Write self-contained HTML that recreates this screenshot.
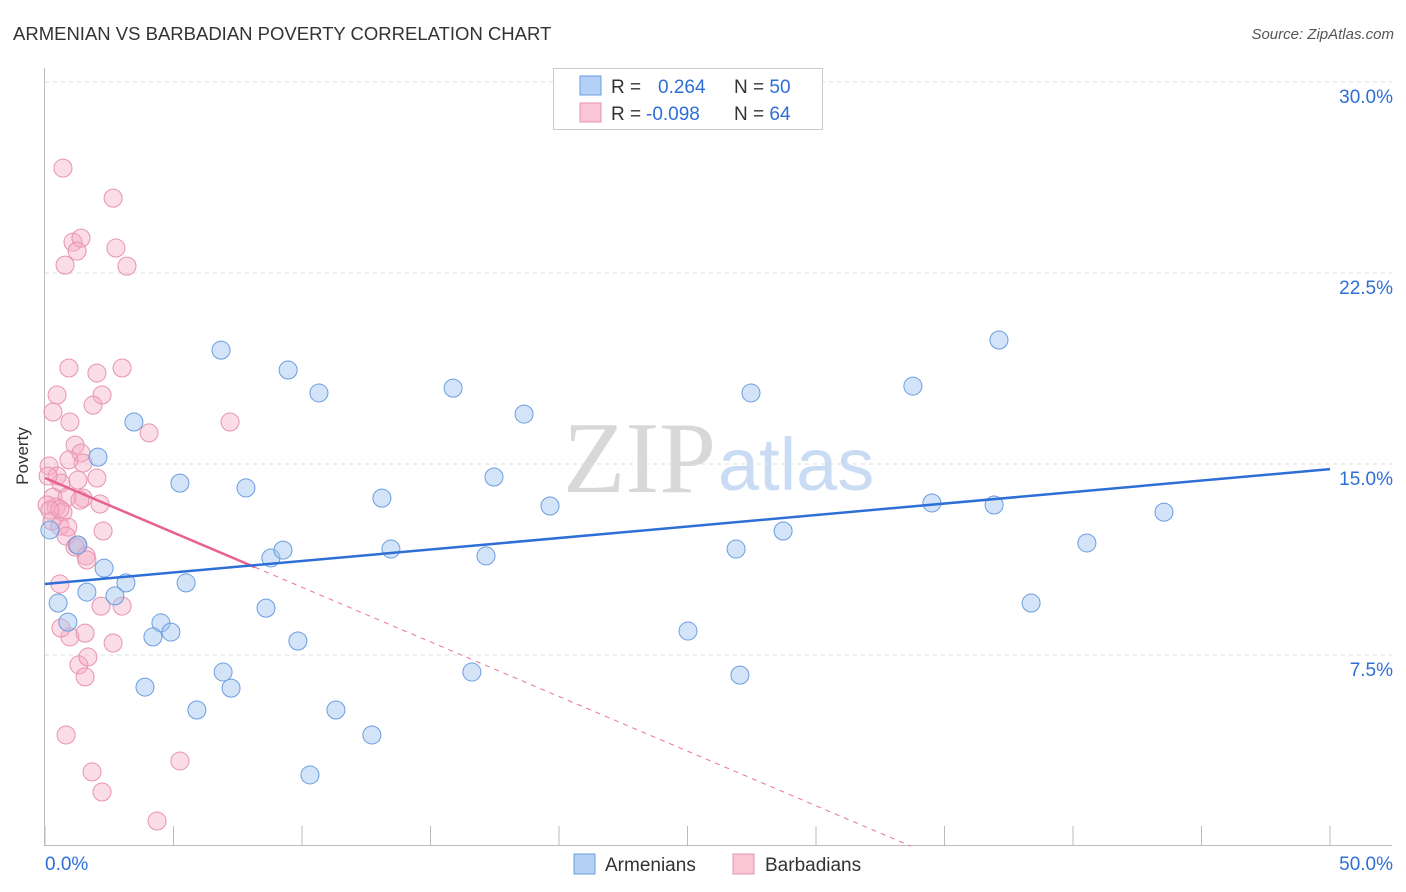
<!DOCTYPE html>
<html><head><meta charset="utf-8"><style>
body{margin:0;background:#fff;font-family:"Liberation Sans",sans-serif;}
svg{display:block}
</style></head><body>
<svg id="chart" width="1406" height="892" xmlns="http://www.w3.org/2000/svg">
<text x="13" y="40" font-size="18.5" fill="#333">ARMENIAN VS BARBADIAN POVERTY CORRELATION CHART</text>
<text x="1394" y="39" font-size="15" fill="#555" font-style="italic" text-anchor="end">Source: ZipAtlas.com</text>
<text x="716" y="492" font-size="102" fill="#d8d8d8" text-anchor="end" font-family="Liberation Serif,serif">ZIP</text>
<text x="718" y="490" font-size="74" fill="#c9dcf3">atlas</text>
<g id="grid"></g><g id="marks"></g>
<text x="28" y="456" font-size="17" fill="#333" text-anchor="middle" transform="rotate(-90 28 456)">Poverty</text>
<g>
<rect x="553.5" y="68.5" width="269" height="61" fill="#fff" stroke="#ccc"/>
<rect x="580" y="76" width="21" height="19" fill="#b5d0f5" stroke="#6a9de0"/>
<rect x="580" y="103" width="21" height="19" fill="#f9c6d6" stroke="#e893ae"/>
<text x="611" y="93" font-size="19" fill="#333">R = <tspan fill="#2d6fd6" x="658">0.264</tspan><tspan x="734" fill="#333">N = </tspan><tspan fill="#2d6fd6">50</tspan></text>
<text x="611" y="120" font-size="19" fill="#333">R = <tspan fill="#2d6fd6" x="646">-0.098</tspan><tspan x="734" fill="#333">N = </tspan><tspan fill="#2d6fd6">64</tspan></text>
</g>
<g>
<rect x="574" y="854" width="21" height="20" fill="#b5d0f5" stroke="#6a9de0"/>
<text x="605" y="871" font-size="19" fill="#333">Armenians</text>
<rect x="733" y="854" width="21" height="20" fill="#f9c6d6" stroke="#e893ae"/>
<text x="765" y="871" font-size="19" fill="#333">Barbadians</text>
</g>
</svg>
<script>
const yTicks=[7.5,15,22.5,30];
const yTickLabels=["7.5%","15.0%","22.5%","30.0%"];
const xTicks=[0,5,10,15,20,25,30,35,40,45,50];
const armX=[6.85,9.46,10.66,15.88,18.64,3.46,2.06,5.25,7.82,13.11,17.47,19.65,8.79,9.26,13.46,17.16,2.30,3.15,5.49,1.63,2.72,0.51,0.89,4.51,4.20,4.90,8.60,9.84,6.93,7.24,3.89,5.91,11.32,12.72,10.31,16.61,25.02,27.04,26.89,28.72,27.47,33.77,37.12,34.51,36.93,40.54,43.54,38.37,0.19,1.28];
const armY=[19.47,18.69,17.79,17.98,16.96,16.65,15.27,14.25,14.06,13.66,14.49,13.35,11.31,11.62,11.66,11.39,10.91,10.33,10.33,9.97,9.82,9.54,8.79,8.76,8.21,8.40,9.34,8.05,6.83,6.20,6.24,5.34,5.34,4.36,2.79,6.83,8.44,6.71,11.66,12.37,17.79,18.06,19.87,13.47,13.39,11.90,13.11,9.54,12.41,11.82];
const barX=[0.70,2.65,1.09,1.40,1.25,2.76,0.78,3.19,0.93,2.02,3.00,0.47,2.22,0.31,1.87,0.97,4.05,7.20,1.17,1.40,1.48,0.93,0.16,0.47,0.62,1.28,2.02,0.31,0.86,1.48,0.43,0.70,0.08,0.27,0.58,0.89,2.14,0.58,0.82,2.26,1.25,1.17,1.60,1.63,0.58,2.18,3.00,0.97,0.62,1.56,2.65,1.32,1.67,1.56,0.82,1.83,2.22,5.25,4.36,0.12,0.19,1.36];
const barY=[26.62,25.44,23.71,23.87,23.36,23.48,22.81,22.77,18.77,18.57,18.77,17.71,17.71,17.04,17.31,16.65,16.22,16.65,15.74,15.43,15.04,15.16,14.92,14.53,14.25,14.37,14.45,13.70,13.70,13.66,13.31,13.11,13.39,12.76,12.56,12.52,13.43,13.23,12.17,12.37,11.82,11.74,11.39,11.23,10.29,9.42,9.42,8.21,8.56,8.36,7.97,7.11,7.42,6.64,4.36,2.91,2.12,3.34,0.98,14.53,13.19,13.58];
const armTrend=[10.29,14.80];
const barTrend=[14.45,-0.429];
const NS="http://www.w3.org/2000/svg";
const X=v=>45+v*25.7, Y=v=>846-v*25.467;
function mk(t,a,p){const e=document.createElementNS(NS,t);for(const k in a)e.setAttribute(k,a[k]);p.appendChild(e);return e;}
const g=document.getElementById('grid'), m=document.getElementById('marks');
yTicks.forEach((t,i)=>{
 const l=mk('line',{x1:45,x2:1392,y1:Y(t),y2:Y(t),stroke:'#ddd','stroke-dasharray':'4,4'},g);
 
 
 const tx=mk('text',{x:1393,y:Y(t)+21,'font-size':19,fill:'#2d6fd6','text-anchor':'end'},g);
 tx.textContent=yTickLabels[i];
 
 
});
const ax=mk('line',{x1:44.5,x2:44.5,y1:68,y2:846,stroke:'#bbb'},g);


const bx=mk('line',{x1:45,x2:1392,y1:845.5,y2:845.5,stroke:'#bbb'},g);


xTicks.forEach(t=>{
 const l=mk('line',{x1:X(t),x2:X(t),y1:826,y2:846,stroke:'#bbb'},g);
 
 
});
const xl0=mk('text',{x:45,y:870,'font-size':19,fill:'#2d6fd6'},g);xl0.textContent='0.0%';


const xl1=mk('text',{x:1393,y:870,'font-size':19,fill:'#2d6fd6','text-anchor':'end'},g);xl1.textContent='50.0%';


barX.forEach((v,i)=>{
 const c=mk('circle',{cx:X(v),cy:Y(barY[i]),r:9,fill:'rgba(245,170,196,0.4)',stroke:'#e893ae','stroke-width':1},m);
 
 
});
armX.forEach((v,i)=>{
 const c=mk('circle',{cx:X(v),cy:Y(armY[i]),r:9,fill:'rgba(160,195,240,0.45)',stroke:'#6a9de0','stroke-width':1},m);
 
 
});
const bEnd=-barTrend[0]/barTrend[1];
const pd=mk('line',{x1:X(8.17),y1:Y(barTrend[0]+barTrend[1]*8.17),x2:X(bEnd),y2:Y(0),stroke:'#e8739a','stroke-dasharray':'5,5','stroke-width':1},m);


const ps=mk('line',{x1:X(0),y1:Y(barTrend[0]),x2:X(8.17),y2:Y(barTrend[0]+barTrend[1]*8.17),stroke:'#e8618f','stroke-width':2.5},m);


const bl=mk('line',{x1:X(0),y1:Y(armTrend[0]),x2:X(50),y2:Y(armTrend[1]),stroke:'#2d6fd6','stroke-width':2.5},m);


</script>
</body></html>
